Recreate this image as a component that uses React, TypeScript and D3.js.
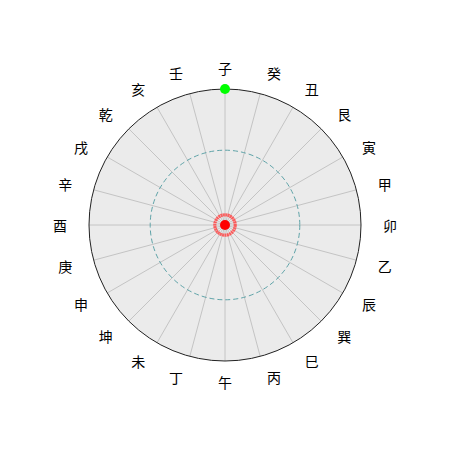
import React, { useEffect, useRef } from "react"
import * as d3 from "d3"

// 24 mountains, clockwise from north
const mountains = [
  "子", "癸", "丑", "艮", "寅", "甲", "卯", "乙", "辰", "巽", "巳", "丙",
  "午", "丁", "未", "坤", "申", "庚", "酉", "辛", "戌", "乾", "亥", "壬",
]
// marker points: [angle in degrees, radius 0..1]
const centerPoint = [0, 0]
const northPoint = [0, 1]
const ringRadius = 0.075
const dashedRadius = 0.55

export default function App() {
  const ref = useRef<SVGSVGElement>(null)

  useEffect(() => {
    const size = 450
    const cx = 225
    const cy = 225
    const R = 136

    const svg = d3.select(ref.current)
    svg.selectAll("*").remove()

    const r = d3.scaleLinear().domain([0, 1]).range([0, R])
    const angle = d3
      .scaleLinear()
      .domain([0, mountains.length])
      .range([0, 2 * Math.PI])

    const g = svg.append("g").attr("transform", `translate(${cx},${cy})`)

    g.append("circle").attr("r", r(1)).attr("fill", "#ebebeb")

    g.selectAll("line.spoke")
      .data(mountains)
      .enter()
      .append("line")
      .attr("class", "spoke")
      .attr("x1", 0)
      .attr("y1", 0)
      .attr("x2", (d, i) => r(1) * Math.sin(angle(i)))
      .attr("y2", (d, i) => -r(1) * Math.cos(angle(i)))
      .attr("stroke", "#c4c4c4")
      .attr("stroke-width", 1)

    g.append("circle")
      .attr("r", r(dashedRadius))
      .attr("fill", "none")
      .attr("stroke", "#5fa3a8")
      .attr("stroke-width", 1)
      .attr("stroke-dasharray", "5,3")

    g.append("circle")
      .attr("r", r(1))
      .attr("fill", "none")
      .attr("stroke", "#222")
      .attr("stroke-width", 1)

    const sgn = (v: number) => (Math.abs(v) < 1e-6 ? 0 : Math.sign(v))

    g.selectAll("text.label")
      .data(mountains)
      .enter()
      .append("text")
      .attr("class", "label")
      .attr("x", (d, i) => {
        const s = Math.sin(angle(i))
        return 156.5 * s + 8.5 * sgn(s)
      })
      .attr("y", (d, i) => -157 * Math.cos(angle(i)))
      .attr("text-anchor", "middle")
      .attr("dominant-baseline", "central")
      .attr("font-family", "Noto Sans CJK SC")
      .attr("font-size", 14)
      .attr("fill", "#000")
      .text(d => d)

    // center ring
    g.append("circle")
      .attr("r", r(ringRadius))
      .attr("fill", "none")
      .attr("stroke", "#ff4848")
      .attr("stroke-opacity", 0.85)
      .attr("stroke-width", 3.2)
      .attr("stroke-dasharray", "2,0.4")

    const toXY = (p: number[]) => {
      const a = (p[0] * Math.PI) / 180
      return [r(p[1]) * Math.sin(a), -r(p[1]) * Math.cos(a)]
    }

    const [x0, y0] = toXY(centerPoint)
    g.append("circle").attr("cx", x0).attr("cy", y0).attr("r", 5).attr("fill", "#ff0000")

    const [x1, y1] = toXY(northPoint)
    g.append("circle").attr("cx", x1).attr("cy", y1).attr("r", 5).attr("fill", "#00ff00")

    svg.attr("width", size).attr("height", size)
  }, [])

  return (
    <svg
      ref={ref}
      width={450}
      height={450}
      style={{ position: "absolute", left: 0, top: 0 }}
    />
  )
}
